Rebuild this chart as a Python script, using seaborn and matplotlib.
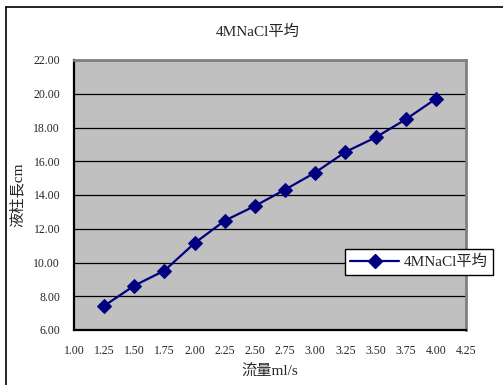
import matplotlib
matplotlib.use("Agg")
import matplotlib.pyplot as plt
import seaborn as sns
import pandas as pd
from matplotlib.lines import Line2D

# Flow rate (ml/s) and average liquid column length (cm) for 4M NaCl
flow = [1.25, 1.50, 1.75, 2.00, 2.25, 2.50, 2.75, 3.00, 3.25, 3.50, 3.75, 4.00]
length = [7.43, 8.63, 9.52, 11.15, 12.48, 13.35, 14.32, 15.33, 16.55, 17.41, 18.48, 19.70]
series_name = "4MNaCl平均"
x_ticks = [1.00, 1.25, 1.50, 1.75, 2.00, 2.25, 2.50, 2.75, 3.00, 3.25, 3.50, 3.75, 4.00, 4.25]
y_ticks = [6.00, 8.00, 10.00, 12.00, 14.00, 16.00, 18.00, 20.00, 22.00]

sns.set_style("white")
plt.rcParams["font.family"] = ["Liberation Serif", "Noto Sans CJK TC"]

df = pd.DataFrame({"flow": flow, "length": length})

fig = plt.figure(figsize=(5.03, 3.85), dpi=100)
ax = fig.add_axes([74 / 503, 1 - 330 / 385, (466 - 74) / 503, (330 - 60) / 385])

navy = "#000080"
sns.lineplot(data=df, x="flow", y="length", ax=ax, color=navy, linewidth=1.6,
             marker="D", markersize=7.5, markeredgecolor=navy, markerfacecolor=navy)

ax.set_facecolor("#C0C0C0")
ax.set_xlim(x_ticks[0], x_ticks[-1])
ax.set_ylim(y_ticks[0], y_ticks[-1])
ax.set_xticks(x_ticks)
ax.set_yticks(y_ticks)
ax.set_xticklabels([f"{v:.2f}" for v in x_ticks], fontsize=8.5)
ax.set_yticklabels([f"{v:.2f}" for v in y_ticks], fontsize=8.5)
ax.tick_params(axis="x", direction="in", length=4, width=1, color="black", pad=11)
ax.tick_params(axis="y", direction="out", length=4, width=1, color="black", pad=6)
ax.grid(axis="y", color="black", linewidth=0.9)
ax.grid(axis="x", visible=False)
ax.set_axisbelow(True)

for side in ("left", "bottom"):
    ax.spines[side].set_color("black")
    ax.spines[side].set_linewidth(1.6)
for side in ("top", "right"):
    ax.spines[side].set_color("#808080")
    ax.spines[side].set_linewidth(2)

ax.set_xlabel("流量ml/s", fontsize=11, labelpad=5)
ax.set_ylabel("液柱長cm", fontsize=11, labelpad=6)

fig.text(258 / 503, 1 - 32 / 385, series_name, ha="center", va="center", fontsize=11)

handle = Line2D([], [], color=navy, linewidth=1.6, marker="D", markersize=7.5,
                markerfacecolor=navy, markeredgecolor=navy)
leg = fig.legend([handle], [series_name], loc="center",
                 bbox_to_anchor=(419 / 503, 1 - 262 / 385), fontsize=11,
                 frameon=True, fancybox=False, edgecolor="black", framealpha=1,
                 handlelength=3.2, borderpad=0.35, handletextpad=0.3)
leg.get_frame().set_linewidth(1.0)

# Outer chart border (left and top edges)
fig.add_artist(Line2D([5.5 / 503, 5.5 / 503], [0, 1 - 7 / 385], transform=fig.transFigure,
                      color="black", linewidth=1.2))
fig.add_artist(Line2D([5.5 / 503, 1], [1 - 7 / 385, 1 - 7 / 385], transform=fig.transFigure,
                      color="black", linewidth=1.2))

fig.savefig("out.png", dpi=100, facecolor="white")
